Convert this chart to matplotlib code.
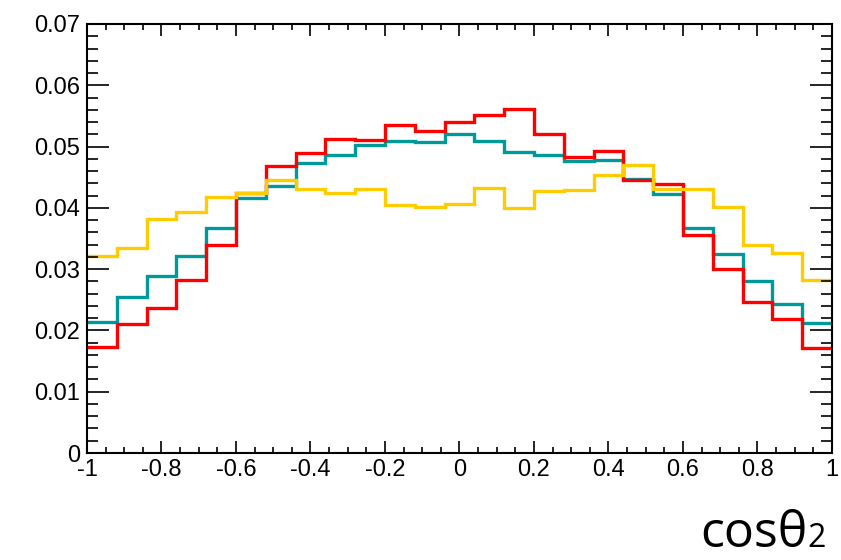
import numpy as np
import matplotlib.pyplot as plt

# 25 bins over cos(theta2) in [-1, 1]
edges = np.linspace(-1, 1, 26)

teal_vals = [0.0214, 0.0254, 0.0289, 0.0322, 0.0367, 0.0416, 0.0436, 0.0473, 0.0486,
             0.0502, 0.0509, 0.0508, 0.0520, 0.0509, 0.0491, 0.0487, 0.0477, 0.0478,
             0.0447, 0.0422, 0.0367, 0.0325, 0.0280, 0.0243, 0.0212]
red_vals = [0.0173, 0.0211, 0.0237, 0.0282, 0.0340, 0.0425, 0.0469, 0.0489, 0.0513,
            0.0511, 0.0536, 0.0526, 0.0540, 0.0552, 0.0562, 0.0521, 0.0483, 0.0493,
            0.0446, 0.0439, 0.0355, 0.0301, 0.0246, 0.0218, 0.0172]
yellow_vals = [0.0322, 0.0334, 0.0382, 0.0394, 0.0417, 0.0424, 0.0446, 0.0431, 0.0425,
               0.0430, 0.0404, 0.0402, 0.0406, 0.0432, 0.0399, 0.0428, 0.0429, 0.0453,
               0.0470, 0.0431, 0.0431, 0.0402, 0.0339, 0.0326, 0.0283]

plt.rcParams['font.family'] = ['Liberation Sans', 'DejaVu Sans']

fig = plt.figure(figsize=(8.41, 5.6), dpi=100)
ax = fig.add_axes([87/841, 1-453/560, (832-87)/841, (453-24)/560])

ax.stairs(teal_vals, edges, color='#009999', lw=2.4, baseline=None)
ax.stairs(red_vals, edges, color='#ff0000', lw=2.4, baseline=None)
ax.stairs(yellow_vals, edges, color='#ffcc00', lw=2.4, baseline=None)

ax.set_xlim(-1, 1)
ax.set_ylim(0, 0.07)
ax.set_xticks(np.arange(-1, 1.01, 0.2))
ax.set_xticks(np.arange(-1, 1.01, 0.05), minor=True)
ax.set_yticks(np.arange(0, 0.0701, 0.01))
ax.set_yticks(np.arange(0, 0.0701, 0.002), minor=True)
ax.set_xticklabels(['-1', '-0.8', '-0.6', '-0.4', '-0.2', '0', '0.2', '0.4', '0.6', '0.8', '1'])
ax.set_yticklabels(['0', '0.01', '0.02', '0.03', '0.04', '0.05', '0.06', '0.07'])

ax.tick_params(which='both', direction='in', top=True, right=True, width=1.2, labelsize=17)
ax.tick_params(axis='x', which='major', length=8.6, pad=4)
ax.tick_params(axis='x', which='minor', length=4.3)
ax.tick_params(axis='y', which='major', length=15.8, pad=5)
ax.tick_params(axis='y', which='minor', length=8)
for s in ax.spines.values():
    s.set_linewidth(1.5)

fig.text(700/841, 1-547/560, 'cosθ', fontsize=36, va='baseline', ha='left',
         family=['Open Sans', 'DejaVu Sans'])
fig.text(807/841, 1-547/560, '2', fontsize=23, va='baseline', ha='left',
         family=['Open Sans', 'DejaVu Sans'])

fig.savefig('out.png', dpi=100)
